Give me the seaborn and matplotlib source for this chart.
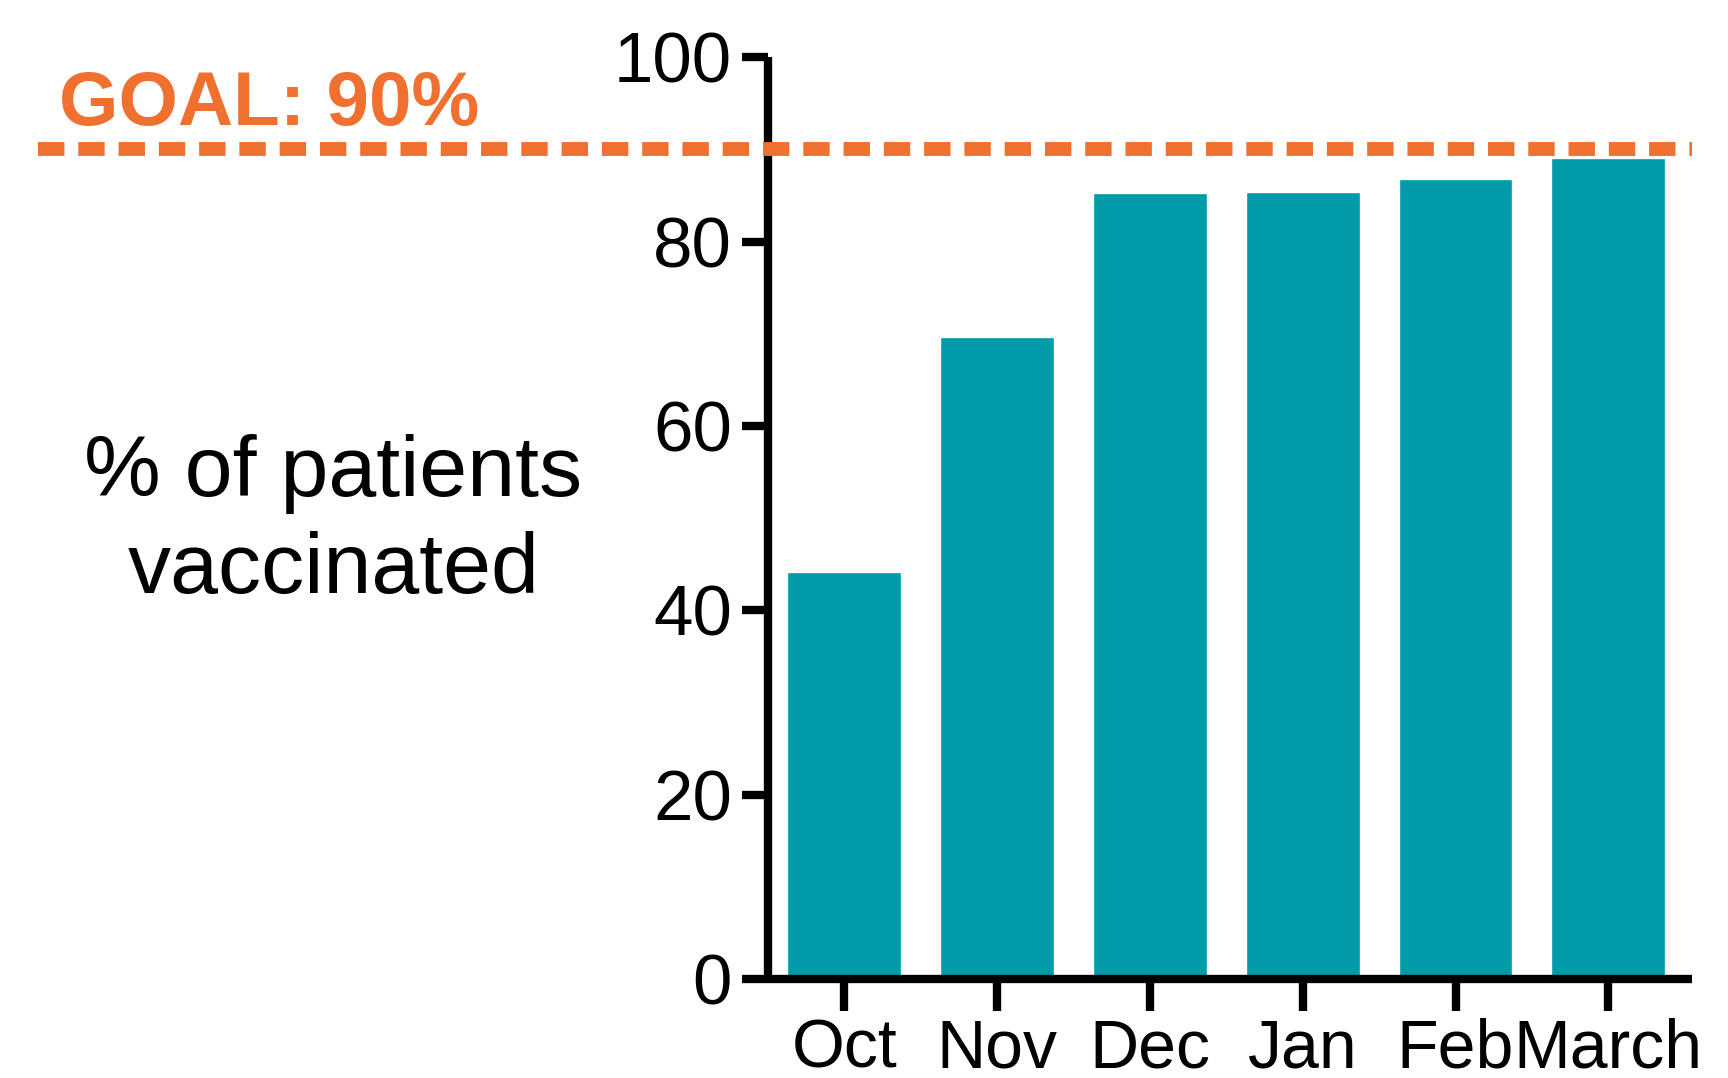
import numpy as np
import pandas as pd
import seaborn as sns
import matplotlib.pyplot as plt

# data
months = ['Oct', 'Nov', 'Dec', 'Jan', 'Feb', 'March']
pct_vaccinated = [44.1, 69.6, 85.3, 85.4, 86.8, 89.1]
goal = 90
yticks = [0, 20, 40, 60, 80, 100]

teal = '#019BAA'
orange = '#F07030'

sns.set_style('ticks')
plt.rcParams['font.family'] = ['Liberation Sans', 'DejaVu Sans']
plt.rcParams['text.color'] = 'black'
plt.rcParams['xtick.color'] = 'black'
plt.rcParams['ytick.color'] = 'black'
plt.rcParams['axes.labelcolor'] = 'black'

df = pd.DataFrame({'month': months, 'pct': pct_vaccinated})

fig = plt.figure(figsize=(17.28, 10.78), dpi=100)
ax = fig.add_axes([0.4444, 0.0918, 0.535, 0.8552])

sns.barplot(data=df, x='month', y='pct', color=teal, saturation=1,
            width=0.745, ax=ax)

ax.set_xlim(-0.5, 5.55)
ax.set_ylim(0, 100)
ax.set_yticks(yticks)
ax.set_xlabel('')
ax.set_ylabel('% of patients\nvaccinated', fontsize=62, rotation=0,
              ha='center', va='center', linespacing=1.28)
ax.yaxis.set_label_coords(-0.47, 0.495)

for side in ['top', 'right']:
    ax.spines[side].set_visible(False)
for side in ['left', 'bottom']:
    ax.spines[side].set_linewidth(6)
    ax.spines[side].set_color('black')
    ax.spines[side].set_capstyle('butt')

ax.tick_params(axis='y', length=19, width=6, labelsize=51, pad=7, color='black')
ax.tick_params(axis='x', length=23, width=6, labelsize=49, pad=5, color='black')

# goal reference line across the whole figure
ax.axhline(goal, xmin=-0.79, xmax=1.0, color=orange, lw=10,
           linestyle=(0, (1.9, 1.0)), clip_on=False, zorder=5)
ax.text(-0.767, goal + 2.6, f'GOAL: {goal}%', transform=ax.get_yaxis_transform(),
        color=orange, fontsize=55, fontweight='bold', ha='left', va='baseline')

fig.savefig('out.png', dpi=100)
